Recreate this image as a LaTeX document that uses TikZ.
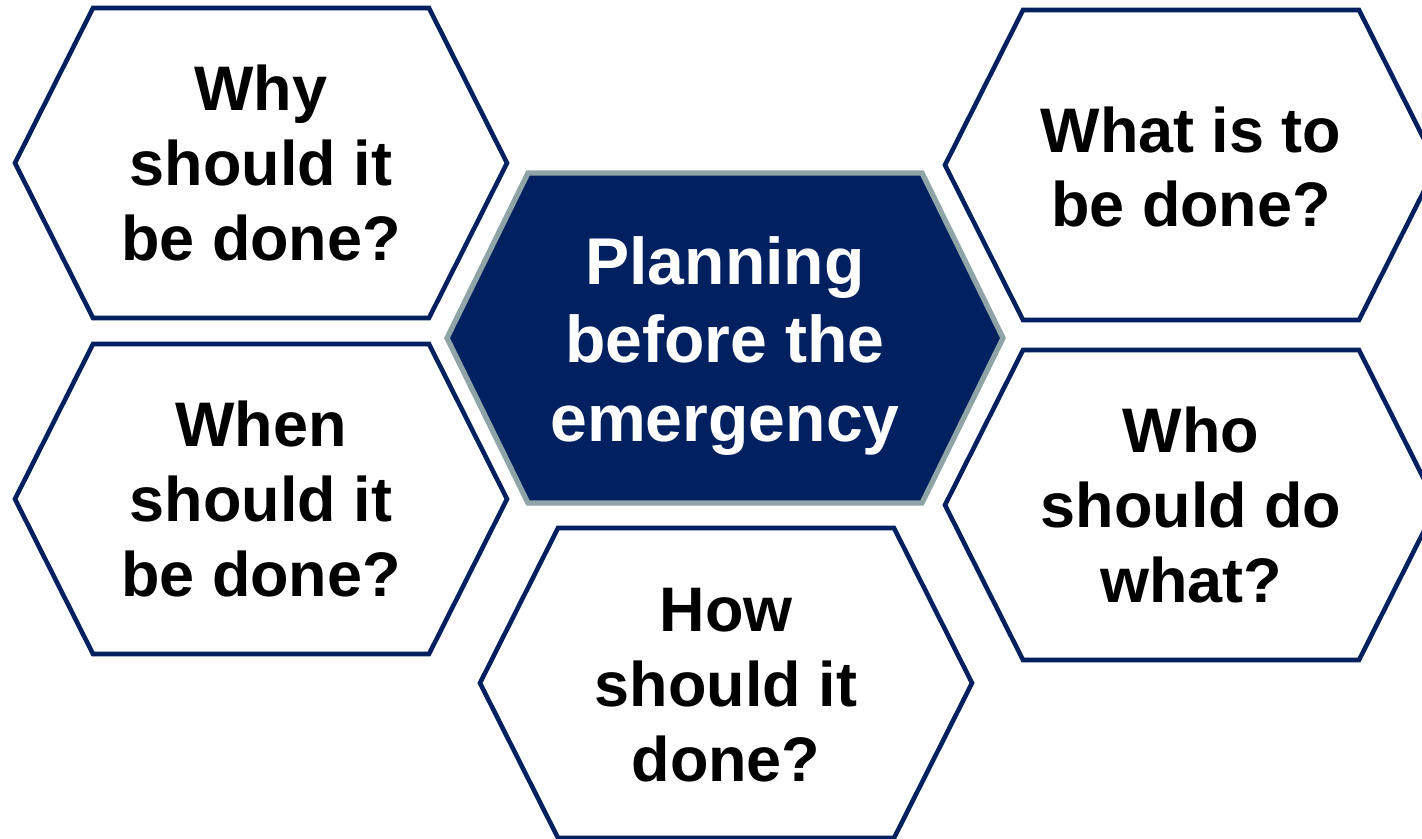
\documentclass[tikz,border=0pt]{standalone}
\usepackage{fontspec}
\setmainfont{Liberation Sans}
\definecolor{navy}{RGB}{0,32,96}
\definecolor{rimgrey}{RGB}{143,164,166}
\tikzset{
  hexline/.style={draw=navy, line width=1.3pt, line join=miter},
  hexcore/.style={draw=rimgrey, fill=navy, line width=1.5pt, line join=miter},
  asklabel/.style={align=center, text=black, font=\bfseries\fontsize{17.9}{21.3}\selectfont},
  corelabel/.style={align=center, text=white, font=\bfseries\fontsize{18.8}{22.4}\selectfont}
}
\begin{document}
\begin{tikzpicture}[x=0.01cm,y=-0.01cm]
\useasboundingbox (0,0) rectangle (1422,838);
\clip (0,0) rectangle (1422,838);

% Drawing hexagon why
\draw [hexline] (15,163) -- (93,8) -- (429,8) -- (507,163) -- (429,318) -- (93,318) -- cycle;%
\node [asklabel] (why) at (261,163) {Why\\should it\\be done?};%

% Drawing hexagon when
\draw [hexline] (15,499) -- (93,344) -- (429,344) -- (507,499) -- (429,654) -- (93,654) -- cycle;%
\node [asklabel] (when) at (261,499) {When\\should it\\be done?};%

% Drawing hexagon what
\draw [hexline] (945,165) -- (1023,10) -- (1359,10) -- (1437,165) -- (1359,320) -- (1023,320) -- cycle;%
\node [asklabel] (what) at (1191,167) {What is to\\be done?};%

% Drawing hexagon who
\draw [hexline] (945,505) -- (1023,350) -- (1359,350) -- (1437,505) -- (1359,660) -- (1023,660) -- cycle;%
\node [asklabel] (who) at (1191,505) {Who\\should do\\what?};%

% Drawing hexagon how
\draw [hexline] (480,683) -- (558,528) -- (894,528) -- (972,683) -- (894,838) -- (558,838) -- cycle;%
\node [asklabel] (how) at (726,685) {How\\should it\\done?};%

% Drawing hexagon planning (centre)
\draw [hexcore] (447,338) -- (528,173) -- (922,173) -- (1003,338) -- (922,503) -- (528,503) -- cycle;%
\node [corelabel] (planning) at (725,346) {Planning\\before the\\emergency};%
\end{tikzpicture}
\end{document}
